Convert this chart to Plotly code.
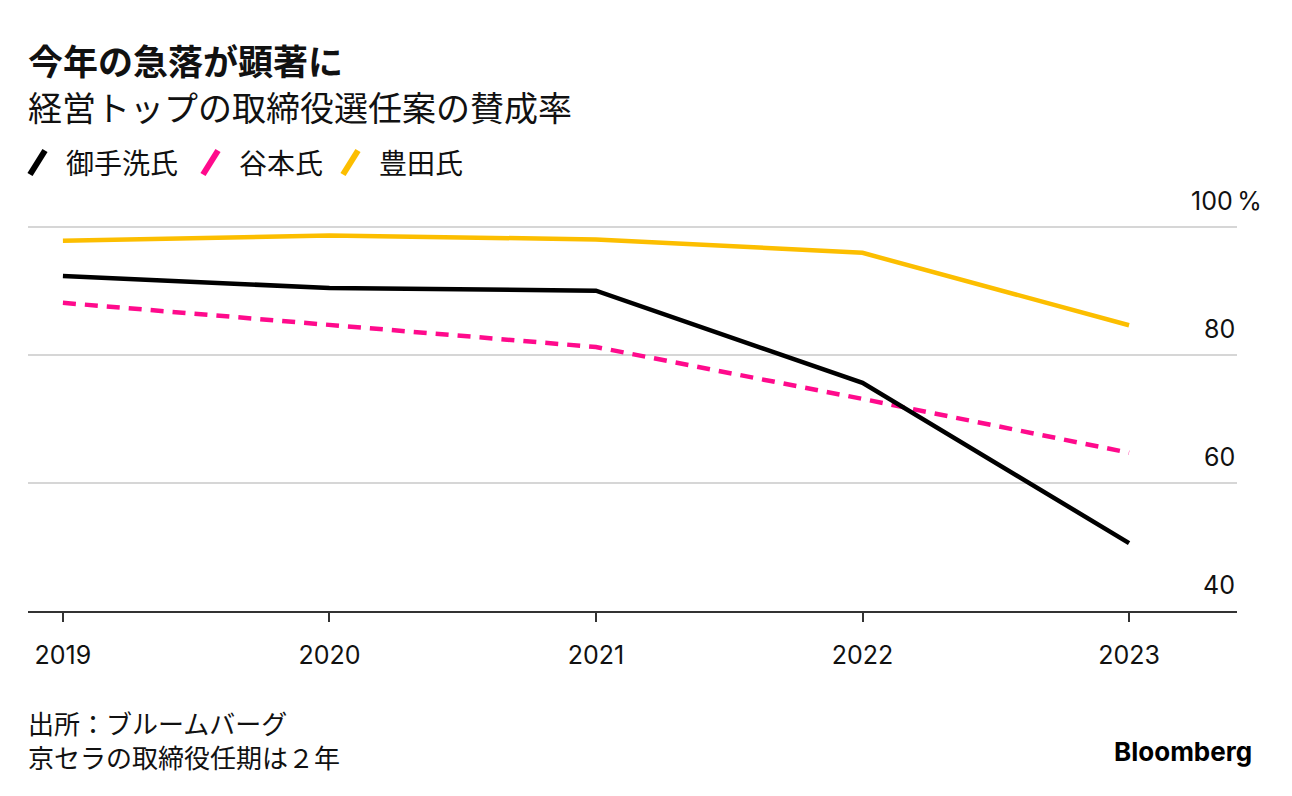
import plotly.graph_objects as go

years = [2019, 2020, 2021, 2022, 2023]
mitarai = [92.3, 90.4, 90.0, 75.6, 50.6]
tanimoto = [88.1, 84.7, 81.2, 73.1, 64.7]
toyoda = [97.8, 98.6, 98.0, 95.9, 84.6]

y_ticks = [40, 60, 80, 100]
y_tick_labels = ["40", "60", "80", "100\u2009%"]

series_names = ["御手洗氏", "谷本氏", "豊田氏"]
colors = ["#000000", "#ff0a8c", "#fcbe00"]

FONT = "Inter, 'Noto Sans CJK JP', sans-serif"
JP = "'Noto Sans CJK JP', sans-serif"

OFF = 8  # page body margin
W, H = 1292 - 2 * OFF, 796 - 2 * OFF

# plot area in reference pixel coords
YMAX = 100.4
PL, PR, PT, PB = 28, 1237, 227 - 0.4 * 6.4, 611
L, R, T, B = PL - OFF, (1292 - OFF) - PR, PT - OFF, (796 - OFF) - PB
pw, ph = W - L - R, H - T - B

def fx(x):
    return (x - OFF - L) / pw

def fy(y):
    return (H - B - (y - OFF)) / ph

fig = go.Figure()
fig.add_trace(go.Scatter(x=years, y=toyoda, mode="lines", name=series_names[2],
                         line=dict(color=colors[2], width=4.5)))
fig.add_trace(go.Scatter(x=years, y=tanimoto, mode="lines", name=series_names[1],
                         line=dict(color=colors[1], width=4.5, dash="13px,9px")))
fig.add_trace(go.Scatter(x=years, y=mitarai, mode="lines", name=series_names[0],
                         line=dict(color=colors[0], width=4.5)))

annotations = []
for v, lab in zip(y_ticks, y_tick_labels):
    annotations.append(dict(x=1, xref="paper", y=v, yref="y", text=lab, showarrow=False,
                            xanchor="right", yanchor="bottom", yshift=9,
                            xshift=27 if lab.endswith("%") else 0,
                            font=dict(family=FONT, size=25, color="#111")))

def paper_text(x, y, text, size, anchor="left", family=JP, color="#111"):
    annotations.append(dict(x=fx(x), y=fy(y), xref="paper", yref="paper", text=text,
                            showarrow=False, xanchor=anchor, yanchor="middle", align="left",
                            font=dict(family=family, size=size, color=color)))

paper_text(26, 83, "<b>今年の急落が顕著に</b><br><span style='font-size:34px'>経営トップの取締役選任案の賛成率</span>", 35)
paper_text(26, 739, "出所：ブルームバーグ<br>京セラの取締役任期は２年", 26)
paper_text(1254, 751, "<b>Bloomberg</b>", 26, anchor="right", family="Inter, sans-serif", color="#000")

shapes = []
leg_x = [30, 203, 343]
for i, (name, c) in enumerate(zip(series_names, colors)):
    x0 = leg_x[i]
    shapes.append(dict(type="line", xref="paper", yref="paper",
                       x0=fx(x0), y0=fy(175), x1=fx(x0 + 15), y1=fy(151),
                       line=dict(color=c, width=6)))
    paper_text(x0 + 34, 163, name, 28)

fig.update_layout(
    width=W, height=H,
    margin=dict(l=L, r=R, t=T, b=B),
    paper_bgcolor="white", plot_bgcolor="white",
    showlegend=False,
    font=dict(family=FONT, color="#111"),
    xaxis=dict(range=[2018.869, 2023.405], tickvals=years, ticktext=[str(y) for y in years],
               showgrid=False, zeroline=False, showline=True, linecolor="#333", linewidth=2,
               ticks="outside", ticklen=9, tickwidth=2, tickcolor="#333",
               tickfont=dict(family=FONT, size=25, color="#111"), ticklabelstandoff=12),
    yaxis=dict(range=[40, YMAX], tickvals=[60, 80, 100], showticklabels=False,
               showgrid=True, gridcolor="#d6d6d6", gridwidth=2, zeroline=False, showline=False,
               fixedrange=True),
    annotations=annotations,
    shapes=shapes,
)

fig.write_html("out.html")
